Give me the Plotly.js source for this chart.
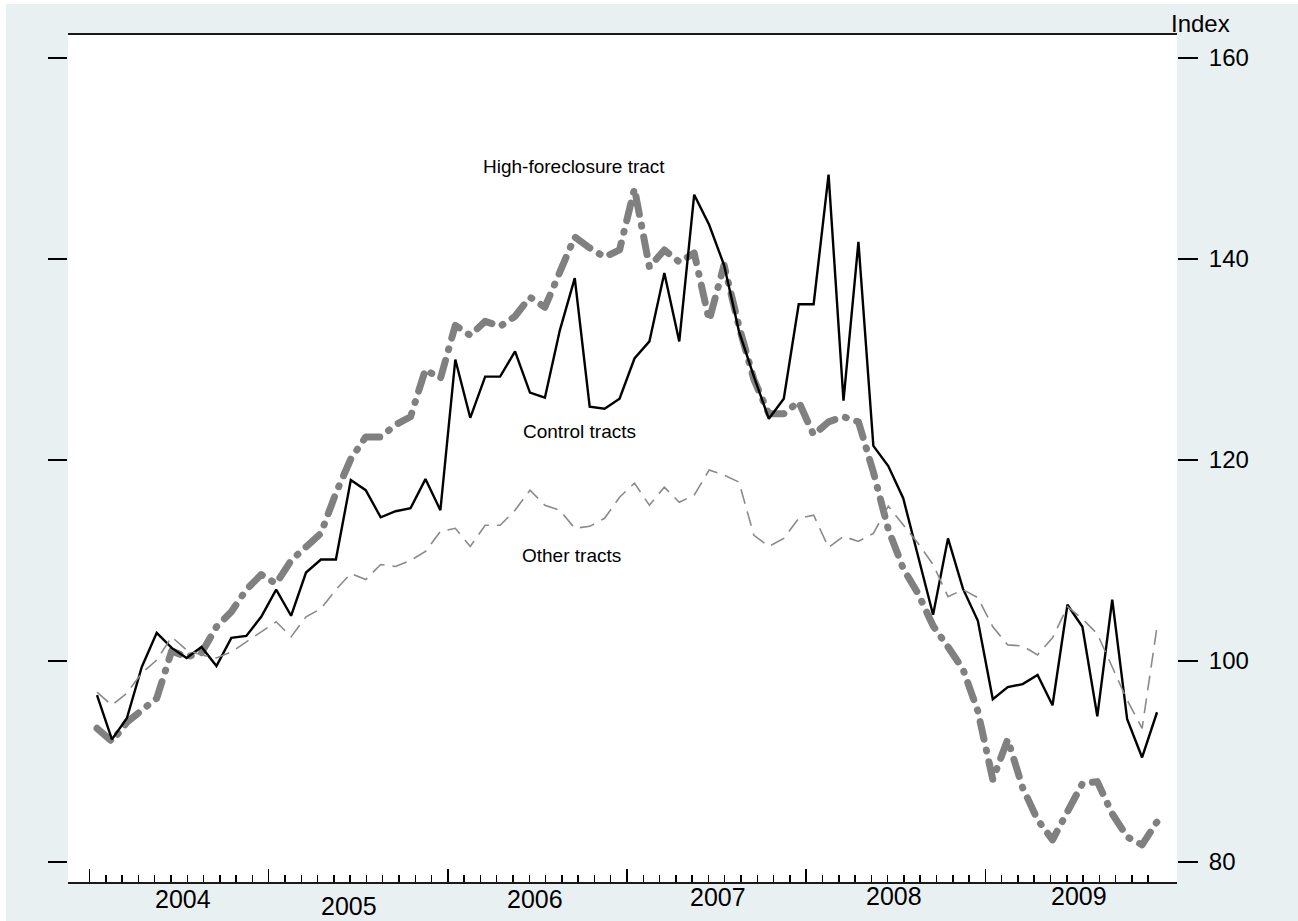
<!DOCTYPE html>
<html>
<head>
<meta charset="utf-8">
<script src="https://cdn.plot.ly/plotly-3.0.1.min.js"></script>
<style>
  html, body { margin: 0; padding: 0; background: #ffffff; }
  #chart { width: 1298px; height: 921px; }
  /* rounded dots and dashes for the thick dash-dot series */
  .scatterlayer .trace:first-child path.js-line { stroke-linecap: round; stroke-linejoin: round; }
</style>
</head>
<body>
<div id="chart"></div>
<script>
// Monthly house price index, January 2004 through December 2009
const yearLabels = ['2004', '2005', '2006', '2007', '2008', '2009'];

const highForeclosure = [
  93.3, 92.0, 93.9, 95.1, 96.3, 101.0, 100.4, 100.8, 103.4, 104.9, 107.1, 108.6,
  107.7, 110.0, 111.4, 112.7, 116.7, 120.1, 122.3, 122.3, 123.5, 124.3, 129.0, 128.1,
  133.4, 132.4, 133.8, 133.3, 134.3, 136.2, 135.2, 138.9, 142.2, 141.1, 140.2, 140.9,
  147.0, 139.2, 140.9, 139.7, 140.6, 133.9, 139.4, 133.3, 128.0, 124.6, 124.6, 125.8,
  122.5, 123.8, 124.3, 123.8, 118.8, 113.1, 109.2, 106.7, 103.5, 101.4, 99.2, 95.0,
  88.2, 92.2, 87.4, 84.2, 82.2, 85.0, 87.8, 88.0, 84.8, 82.5, 81.7, 84.0
];

const controlTracts = [
  96.6, 92.2, 94.3, 99.4, 102.8, 101.3, 100.3, 101.4, 99.5, 102.3, 102.5, 104.4,
  107.1, 104.5, 108.8, 110.1, 110.1, 118.0, 117.0, 114.3, 114.9, 115.2, 118.1, 115.0,
  130.0, 124.2, 128.3, 128.3, 130.8, 126.7, 126.2, 132.9, 138.1, 125.3, 125.1, 126.1,
  130.1, 131.8, 138.6, 131.8, 146.4, 143.4, 139.4, 132.8, 128.3, 124.1, 126.1, 135.5,
  135.5, 148.4, 125.9, 141.7, 121.4, 119.4, 116.2, 110.3, 104.6, 112.2, 107.2, 104.0,
  96.2, 97.4, 97.7, 98.6, 95.6, 105.6, 103.4, 94.5, 106.1, 94.2, 90.4, 94.9
];

const otherTracts = [
  96.9, 95.6, 96.8, 98.8, 100.1, 102.4, 101.1, 100.6, 100.3, 100.9, 101.9, 102.9,
  103.9, 102.4, 104.4, 105.2, 107.1, 108.7, 108.1, 109.6, 109.4, 110.0, 110.9, 112.9,
  113.2, 111.4, 113.5, 113.5, 115.0, 117.0, 115.5, 115.0, 113.2, 113.4, 114.2, 116.3,
  117.7, 115.5, 117.3, 115.8, 116.5, 119.0, 118.5, 117.8, 112.5, 111.4, 112.2, 114.2,
  114.5, 111.3, 112.4, 111.9, 112.7, 115.4, 113.6, 111.7, 109.6, 106.4, 107.1, 106.3,
  103.4, 101.6, 101.5, 100.6, 102.3, 105.4, 104.2, 102.7, 99.4, 96.1, 93.3, 103.4
];

const seriesLabels = ['High-foreclosure tract', 'Control tracts', 'Other tracts'];
const yTicks = [80, 100, 120, 140, 160];

// month index 0..71 along the horizontal axis
const monthIndex = highForeclosure.map((_, i) => i);

// plot-area geometry in pixels
const W = 1298, H = 921;
const L = 68, R = 1177, T = 35, B = 882;
const px2x = px => (px - L) / (R - L);
const py2y = py => (B - py) / (B - T);

// ticks: year boundaries carry long ticks, eleven short ticks per year between them
const majorTicks = [];
for (let k = 0; k <= 5; k++) majorTicks.push(-0.5 + 12 * k);
const minorTicks = [];
for (let k = 0; k <= 65; k++) if (k % 11 !== 0) minorTicks.push(-0.5 + k * 12 / 11);

const fontFamily = '"Liberation Sans", Arial, Helvetica, sans-serif';

const traces = [
  {
    x: monthIndex, y: highForeclosure, name: seriesLabels[0], mode: 'lines',
    line: { color: '#808080', width: 7, dash: '18px,11px,1px,11px' },
    hoverinfo: 'skip'
  },
  {
    x: monthIndex, y: controlTracts, name: seriesLabels[1], mode: 'lines',
    line: { color: '#000000', width: 2.4 },
    hoverinfo: 'skip'
  },
  {
    x: monthIndex, y: otherTracts, name: seriesLabels[2], mode: 'lines',
    line: { color: '#8a8a8a', width: 1.6, dash: '15px,8px' },
    hoverinfo: 'skip'
  },
  // carries the left-hand tick marks (same scale, nothing drawn)
  {
    x: monthIndex, y: otherTracts, yaxis: 'y2', mode: 'lines',
    line: { width: 0, color: 'rgba(0,0,0,0)' }, hoverinfo: 'skip', showlegend: false
  }
];

// year label placement (month-index centre, pixel row)
const yearPos = [[5.75, 899], [16.9, 906], [29.35, 899], [41.6, 897], [53.4, 896], [65.8, 896]];

const annotations = [];
yearLabels.forEach((t, i) => {
  annotations.push({
    text: t, xref: 'x', yref: 'paper', x: yearPos[i][0], y: py2y(yearPos[i][1]),
    xanchor: 'center', yanchor: 'middle', showarrow: false,
    font: { family: fontFamily, size: 25, color: '#000' }
  });
});
// series names written next to the lines
const namePos = [[31.95, 149.2], [32.35, 122.8], [31.75, 110.45]];
seriesLabels.forEach((t, i) => {
  annotations.push({
    text: t, xref: 'x', yref: 'y', x: namePos[i][0], y: namePos[i][1],
    xanchor: 'center', yanchor: 'middle', showarrow: false,
    font: { family: fontFamily, size: 19, color: '#000' }
  });
});
annotations.push({
  text: 'Index', xref: 'paper', yref: 'paper', x: px2x(1169), y: py2y(23),
  xanchor: 'left', yanchor: 'middle', showarrow: false,
  font: { family: fontFamily, size: 24, color: '#000' }
});

const i0 = -(97 - L) / 14.93;
const xRange = [i0, i0 + (R - L) / 14.93];
const yRange = [80 - (B - 862) / 10.05, 80 + (862 - T) / 10.05];

const layout = {
  width: W, height: H,
  margin: { l: L, r: W - R, t: T, b: H - B, pad: 0 },
  paper_bgcolor: '#ffffff',
  plot_bgcolor: '#ffffff',
  showlegend: false,
  font: { family: fontFamily, color: '#000' },
  xaxis: {
    range: xRange, showgrid: false, zeroline: false,
    showline: true, mirror: true, linecolor: '#1a1a1a', linewidth: 1.6,
    tickmode: 'array', tickvals: majorTicks, ticks: 'inside', ticklen: 13,
    tickwidth: 1.5, tickcolor: '#000', showticklabels: false,
    minor: { tickmode: 'array', tickvals: minorTicks, ticks: 'inside', ticklen: 7, tickwidth: 1.5, tickcolor: '#000' }
  },
  yaxis: {
    range: yRange, side: 'right', showgrid: false, zeroline: false, showline: false,
    tickmode: 'array', tickvals: yTicks, ticks: 'outside', ticklen: 20, tickwidth: 1.5,
    tickcolor: '#000', ticklabelstandoff: 6,
    tickfont: { family: fontFamily, size: 24, color: '#000' }
  },
  yaxis2: {
    range: yRange, overlaying: 'y', side: 'left', showgrid: false, zeroline: false,
    showline: false, tickmode: 'array', tickvals: yTicks, ticks: 'outside', ticklen: 19,
    tickwidth: 1.5, tickcolor: '#000', showticklabels: false
  },
  shapes: [
    { type: 'rect', xref: 'paper', yref: 'paper', layer: 'below',
      x0: px2x(6), x1: px2x(W), y0: py2y(H), y1: py2y(4),
      fillcolor: '#e9f0f2', line: { width: 0 } },
    { type: 'rect', xref: 'paper', yref: 'paper', layer: 'below',
      x0: 0, x1: 1, y0: 0, y1: 1, fillcolor: '#ffffff', line: { width: 0 } }
  ],
  annotations: annotations
};

Plotly.newPlot('chart', traces, layout, { displayModeBar: false, staticPlot: true });
</script>
</body>
</html>
